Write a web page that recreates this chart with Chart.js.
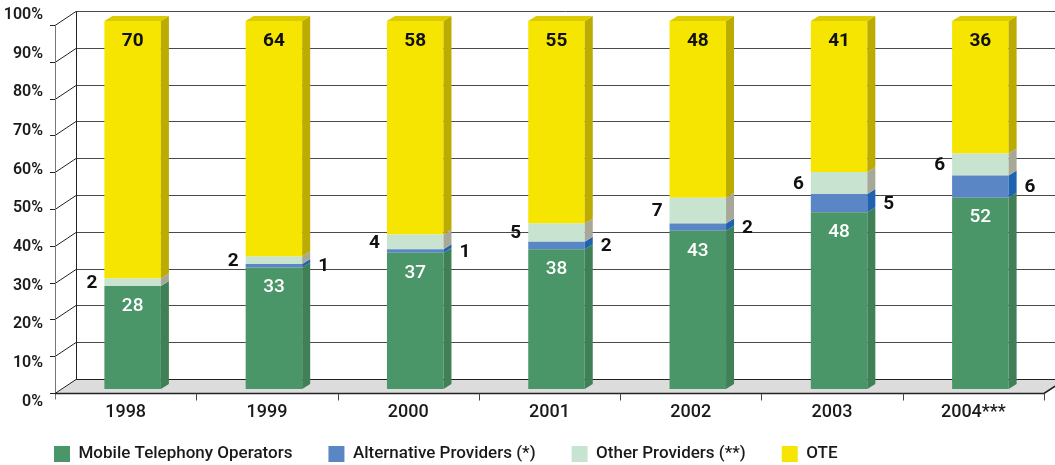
<!DOCTYPE html>
<html>
<head>
<meta charset="utf-8">
<script src="https://cdn.jsdelivr.net/npm/chart.js@4.4.0/dist/chart.umd.min.js"></script>
<style>
  html, body { margin: 0; padding: 0; background: #fff; }
  #wrap { width: 1055px; height: 465px; }
</style>
</head>
<body>
<div id="wrap"><canvas id="shareChart"></canvas></div>
<script>
// market shares (%) per year
const years = ['1998', '1999', '2000', '2001', '2002', '2003', '2004***'];
const mobileOperators = [28, 33, 37, 38, 43, 48, 52];
const altProviders = [0, 1, 1, 2, 2, 5, 6];
const otherProviders = [2, 2, 4, 5, 7, 6, 6];
const ote = [70, 64, 58, 55, 48, 41, 36];
const seriesNames = ['Mobile Telephony Operators', 'Alternative Providers (*)', 'Other Providers (**)', 'OTE'];
const percentTicks = [0, 10, 20, 30, 40, 50, 60, 70, 80, 90, 100];

// front / side / top colours for each series
const frontColors = ['#4a9668', '#5b86c6', '#c8e4d0', '#f5e500'];
const sideColors = ['#3f8057', '#1f63b0', '#a7a897', '#bcab00'];
const topColor = '#dccb00';

const wallShift = { dx: 21, dy: 14 };   // front plane -> back wall
const barShift = { dx: 7, dy: -4 };     // bars sit a little behind the front plane
const barDepth = { dx: 8, dy: 5 };

const threeD = {
    id: 'threeD',
    afterLayout(chart) {
        // legend sits lower and a bit further right than chart.js would put it
        const lg = chart.legend;
        lg.left = 18;
        lg.top = 409.5;
        lg.bottom = chart.height;
        lg.height = lg.bottom - lg.top;
    },
    beforeDatasetsDraw(chart) {
        const ctx = chart.ctx;
        const area = chart.chartArea;
        const yb = chart.scales.yb;
        const xs = chart.scales.x;
        const left = area.left, right = area.right;
        const y0 = Math.round(yb.getPixelForValue(0)) + 0.5;
        const yTop = Math.round(yb.getPixelForValue(100)) + 0.5;

        ctx.save();
        // floor
        ctx.fillStyle = '#dcdcdc';
        ctx.beginPath();
        ctx.moveTo(left, y0);
        ctx.lineTo(right, y0);
        ctx.lineTo(right + wallShift.dx, y0 - wallShift.dy);
        ctx.lineTo(left + wallShift.dx, y0 - wallShift.dy);
        ctx.closePath();
        ctx.fill();

        ctx.lineWidth = 1;
        percentTicks.forEach(function(v) {
            const yf = Math.round(yb.getPixelForValue(v)) + 0.5;
            const yBack = yf - wallShift.dy;
            ctx.strokeStyle = v === 0 ? '#222' : '#4a4a4a';
            ctx.beginPath();
            ctx.moveTo(left + wallShift.dx, yBack);
            ctx.lineTo(chart.width, yBack);
            ctx.stroke();
            ctx.strokeStyle = '#222';
            ctx.beginPath();
            ctx.moveTo(left - 5, yf);
            ctx.lineTo(left, yf);
            ctx.lineTo(left + wallShift.dx, yBack);
            ctx.stroke();
        });

        // back wall edge
        ctx.strokeStyle = '#222';
        ctx.beginPath();
        ctx.moveTo(left + wallShift.dx + 0.5, yTop - wallShift.dy);
        ctx.lineTo(left + wallShift.dx + 0.5, y0 - wallShift.dy);
        ctx.stroke();

        // front axes
        ctx.strokeStyle = '#777';
        ctx.beginPath();
        ctx.moveTo(left + 0.5, yTop);
        ctx.lineTo(left + 0.5, y0 + 6);
        ctx.stroke();

        ctx.strokeStyle = '#222';
        ctx.lineWidth = 1.6;
        ctx.beginPath();
        ctx.moveTo(left, y0);
        ctx.lineTo(right, y0);
        ctx.lineTo(right + wallShift.dx, y0 - wallShift.dy);
        ctx.stroke();

        ctx.lineWidth = 1;
        ctx.strokeStyle = '#444';
        const catW = (right - left) / years.length;
        ctx.beginPath();
        years.forEach(function(y, i) {
            const xb = Math.round(xs.getPixelForValue(i) + catW / 2) + 0.5;
            ctx.moveTo(xb, y0);
            ctx.lineTo(xb, y0 + 7);
        });
        ctx.stroke();
        ctx.restore();

        ctx.save();
        ctx.translate(barShift.dx, barShift.dy);
    },
    afterDatasetsDraw(chart) {
        const ctx = chart.ctx;
        const last = chart.data.datasets.length - 1;
        chart.data.datasets.forEach(function(ds, di) {
            const meta = chart.getDatasetMeta(di);
            meta.data.forEach(function(bar, i) {
                if (!ds.data[i]) return;
                const xr = bar.x + bar.width / 2;
                const xl = bar.x - bar.width / 2;
                ctx.fillStyle = sideColors[di];
                ctx.beginPath();
                ctx.moveTo(xr, bar.y);
                ctx.lineTo(xr + barDepth.dx, bar.y - barDepth.dy);
                ctx.lineTo(xr + barDepth.dx, bar.base - barDepth.dy);
                ctx.lineTo(xr, bar.base);
                ctx.closePath();
                ctx.fill();
                if (di === last) {
                    ctx.fillStyle = topColor;
                    ctx.beginPath();
                    ctx.moveTo(xl, bar.y);
                    ctx.lineTo(xl + barDepth.dx, bar.y - barDepth.dy);
                    ctx.lineTo(xr + barDepth.dx, bar.y - barDepth.dy);
                    ctx.lineTo(xr, bar.y);
                    ctx.closePath();
                    ctx.fill();
                }
            });
        });
        ctx.restore();

        // value labels
        ctx.save();
        ctx.textBaseline = 'middle';
        chart.data.datasets.forEach(function(ds, di) {
            const meta = chart.getDatasetMeta(di);
            meta.data.forEach(function(bar, i) {
                const v = ds.data[i];
                if (!v) return;
                const cx = bar.x + barShift.dx;
                const top = bar.y + barShift.dy;
                const mid = (bar.y + bar.base) / 2 + barShift.dy;
                const xl = cx - bar.width / 2;
                const xr = cx + bar.width / 2 + barDepth.dx;
                if (di === 0) {
                    ctx.font = '500 19px Roboto, sans-serif';
                    ctx.fillStyle = '#fff';
                    ctx.textAlign = 'center';
                    ctx.fillText(v, cx, top + 20);
                } else if (di === 1) {
                    ctx.font = 'bold 19px Roboto, sans-serif';
                    ctx.fillStyle = '#111';
                    ctx.textAlign = 'left';
                    ctx.fillText(v, xr + 8, mid + 1);
                } else if (di === 2) {
                    ctx.font = 'bold 19px Roboto, sans-serif';
                    ctx.fillStyle = '#111';
                    ctx.textAlign = 'right';
                    ctx.fillText(v, xl - 7, mid + 1);
                } else {
                    ctx.font = 'bold 19px Roboto, sans-serif';
                    ctx.fillStyle = '#111';
                    ctx.textAlign = 'center';
                    ctx.fillText(v, cx, top + 20);
                }
            });
        });
        ctx.restore();
    }
};

Chart.defaults.font.family = 'Roboto, "DejaVu Sans", sans-serif';
Chart.defaults.color = '#1a1a1a';

const seriesData = [mobileOperators, altProviders, otherProviders, ote];

new Chart(document.getElementById('shareChart'), {
    type: 'bar',
    data: {
        labels: years,
        datasets: seriesData.map(function(d, i) {
            return {
                label: seriesNames[i],
                data: d,
                backgroundColor: frontColors[i],
                borderWidth: 0,
                yAxisID: 'yb',
                barPercentage: 0.4,
                categoryPercentage: 1
            };
        })
    },
    options: {
        responsive: true,
        maintainAspectRatio: false,
        animation: false,
        layout: { padding: { left: 0, right: 11, top: 15, bottom: 14.5 } },
        plugins: {
            legend: {
                position: 'bottom',
                align: 'start',
                maxHeight: 25,
                labels: {
                    boxWidth: 16,
                    boxHeight: 16,
                    padding: 36,
                    color: '#1a1a1a',
                    font: { size: 17, weight: '500' }
                }
            },
            tooltip: { enabled: false }
        },
        scales: {
            x: {
                stacked: true,
                grid: { display: false, drawTicks: false },
                border: { display: false },
                ticks: { padding: 0, font: { size: 18, weight: '500' }, color: '#1a1a1a' },
                afterFit: function(scale) { scale.height = 24; }
            },
            y: {
                position: 'left',
                min: 0,
                max: 100,
                grid: { display: false, drawTicks: false },
                border: { display: false },
                afterBuildTicks: function(scale) {
                    scale.ticks = percentTicks.map(function(v) { return { value: v }; });
                },
                ticks: {
                    padding: 12,
                    font: { size: 16, weight: '600' },
                    color: '#1a1a1a',
                    callback: function(v) { return v + '%'; }
                },
                afterFit: function(scale) {
                    scale.width = 55;
                    scale.paddingTop = 0;
                    scale.paddingBottom = 0;
                }
            },
            yb: {
                display: false,
                stacked: true,
                min: -2.31,
                max: 102.72
            }
        }
    },
    plugins: [threeD]
});
</script>
</body>
</html>
